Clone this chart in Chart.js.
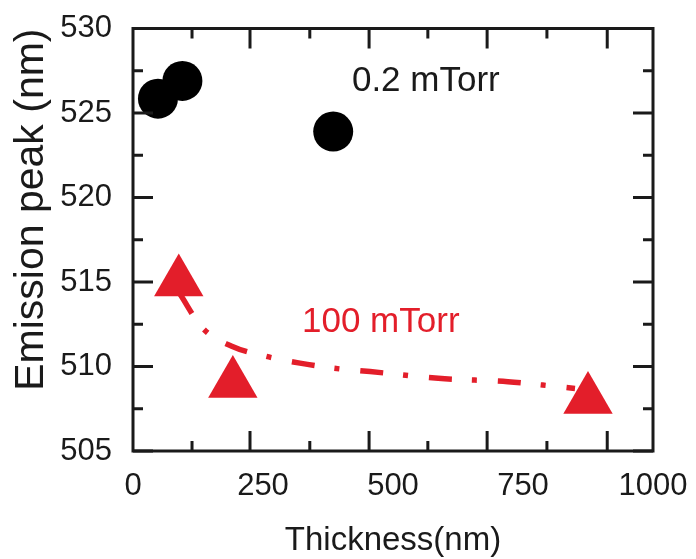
<!DOCTYPE html>
<html>
<head>
<meta charset="utf-8">
<script src="https://cdn.jsdelivr.net/npm/chart.js@4.4.0/dist/chart.umd.min.js"></script>
<style>
  html, body { margin: 0; padding: 0; background: #fff; }
  #wrap { width: 696px; height: 559px; }
</style>
</head>
<body>
<div id="wrap"><canvas id="chart"></canvas></div>
<script>
// values
const lowThickness = [48, 95, 385];
const lowPeak = [525.85, 526.9, 523.9];

const highThickness = [88, 192, 875];
const highPeak = [515.0, 509.0, 508.05];

// dash-dot guide curve through the 100 mTorr points
const fitThickness = [90, 133, 190, 256, 321, 385, 456, 587, 721, 788, 850];
const fitPeak = [514.3, 512.3, 511.2, 510.6, 510.2, 509.9, 509.7, 509.3, 509.1, 508.9, 508.7];

const xTicks = [0, 250, 500, 750, 1000];
const yTicks = [505, 510, 515, 520, 525, 530];

// tick marks on the frame (they sit off the labels in the original)
const xMajorMarks = [225, 454, 681, 912];
const xMinorMarks = [113.5, 340, 567, 796];
const yMajorMarks = [505, 510, 515, 520, 525, 530];
const yMinorMarks = [507.5, 512.5, 517.5, 522.5, 527.5];

const notes = [
    { text: '0.2 mTorr', x: 421, y: 526.9, color: '#1a1a1a' },
    { text: '100 mTorr', x: 325, y: 512.6, color: '#e31e2a' },
];

const RED = '#e31e2a';
const INK = '#1a1a1a';
const FONT = '"Liberation Sans", Arial, sans-serif';

function toPoints(xs, ys) {
    return xs.map((x, i) => ({ x: x, y: ys[i] }));
}

function noOverflow(s) {
    s.paddingTop = 0;
    s.paddingBottom = 0;
    s.paddingLeft = 0;
    s.paddingRight = 0;
}

const framePlugin = {
    id: 'frame',
    afterDatasetsDraw(chart) {
        const { ctx, chartArea: a, scales } = chart;
        const xs = scales.x, ys = scales.y;
        ctx.save();
        ctx.strokeStyle = INK;
        ctx.lineWidth = 3;
        ctx.lineCap = 'butt';
        ctx.beginPath();
        const tick = (v, len, horiz) => {
            if (horiz) {
                const px = xs.getPixelForValue(v);
                ctx.moveTo(px, a.bottom); ctx.lineTo(px, a.bottom - len);
                ctx.moveTo(px, a.top); ctx.lineTo(px, a.top + len);
            } else {
                const py = ys.getPixelForValue(v);
                ctx.moveTo(a.left, py); ctx.lineTo(a.left + len, py);
                ctx.moveTo(a.right, py); ctx.lineTo(a.right - len, py);
            }
        };
        xMajorMarks.forEach(v => tick(v, 20, true));
        xMinorMarks.forEach(v => tick(v, 10, true));
        yMajorMarks.forEach(v => tick(v, 20, false));
        yMinorMarks.forEach(v => tick(v, 10, false));
        ctx.stroke();
        ctx.strokeRect(a.left, a.top, a.right - a.left, a.bottom - a.top);

        ctx.font = '35px ' + FONT;
        ctx.textAlign = 'left';
        ctx.textBaseline = 'middle';
        notes.forEach(n => {
            ctx.fillStyle = n.color;
            ctx.fillText(n.text, xs.getPixelForValue(n.x), ys.getPixelForValue(n.y));
        });
        ctx.restore();
    }
};

const ctx = document.getElementById('chart');

new Chart(ctx, {
    type: 'scatter',
    data: {
        datasets: [
            {
                label: '0.2 mTorr',
                data: toPoints(lowThickness, lowPeak),
                pointStyle: 'circle',
                pointRadius: 20,
                backgroundColor: '#000',
                borderColor: '#000',
                borderWidth: 0,
                order: 1,
            },
            {
                label: '100 mTorr',
                data: toPoints(highThickness, highPeak),
                pointStyle: 'triangle',
                pointRadius: 28.5,
                backgroundColor: RED,
                borderColor: RED,
                borderWidth: 0,
                order: 1,
            },
            {
                label: 'fit',
                data: toPoints(fitThickness, fitPeak),
                showLine: true,
                pointRadius: 0,
                borderColor: RED,
                borderWidth: 5.5,
                borderDash: [23, 20, 5, 21],
                cubicInterpolationMode: 'monotone',
                fill: false,
                order: 3,
            },
        ],
    },
    options: {
        responsive: true,
        maintainAspectRatio: false,
        animation: false,
        clip: false,
        layout: { padding: { left: 7, top: 21, right: 43, bottom: 0 } },
        scales: {
            x: {
                type: 'linear',
                min: 0,
                max: 1000,
                afterBuildTicks: s => { s.ticks = xTicks.map(v => ({ value: v })); },
                afterFit: s => { s.height = 108; noOverflow(s); },
                grid: { display: false, drawTicks: false },
                border: { display: false },
                ticks: {
                    padding: 17,
                    color: INK,
                    maxRotation: 0,
                    callback: v => String(v),
                    font: { family: FONT, size: 31 },
                },
                title: {
                    display: true,
                    text: 'Thickness(nm)',
                    color: INK,
                    padding: 0,
                    font: { family: FONT, size: 33, lineHeight: 1.1 },
                },
            },
            y: {
                type: 'linear',
                min: 505,
                max: 530,
                afterBuildTicks: s => { s.ticks = yTicks.map(v => ({ value: v })); },
                afterFit: s => { s.width = 126; noOverflow(s); },
                grid: { display: false, drawTicks: false },
                border: { display: false },
                ticks: {
                    padding: 21,
                    color: INK,
                    callback: v => String(v),
                    font: { family: FONT, size: 31 },
                },
                title: {
                    display: true,
                    text: 'Emission peak (nm)',
                    color: INK,
                    align: 'end',
                    padding: 0,
                    font: { family: FONT, size: 41 },
                },
            },
        },
        plugins: {
            legend: { display: false },
            tooltip: { enabled: false },
        },
    },
    plugins: [framePlugin],
});
</script>
</body>
</html>
